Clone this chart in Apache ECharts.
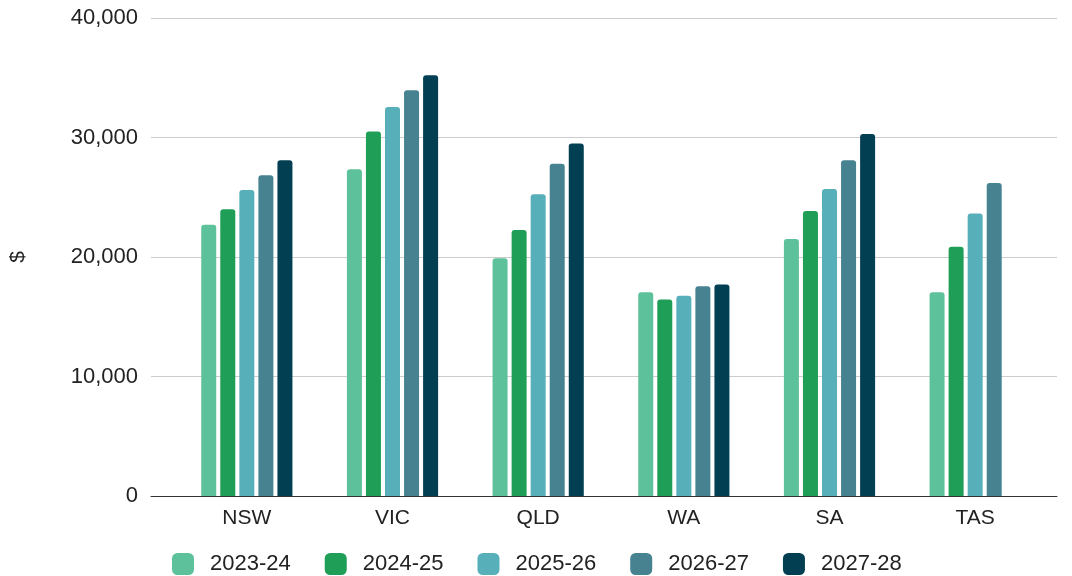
<!DOCTYPE html>
<html>
<head>
<meta charset="utf-8">
<script src="https://cdn.jsdelivr.net/npm/echarts@6/dist/echarts.min.js"></script>
<style>
  html, body { margin: 0; padding: 0; background: #fff; }
  #chart { width: 1072px; height: 576px; }
</style>
</head>
<body>
<div id="chart"></div>
<script>
const states = ['NSW', 'VIC', 'QLD', 'WA', 'SA', 'TAS']
const years = ['2023-24', '2024-25', '2025-26', '2026-27', '2027-28']
const v2023 = [22700, 27350, 19900, 17050, 21500, 17050]
const v2024 = [24000, 30500, 22250, 16450, 23850, 20850]
const v2025 = [25600, 32550, 25250, 16750, 25700, 23650]
const v2026 = [26850, 33950, 27800, 17550, 28100, 26200]
const v2027 = [28100, 35200, 29500, 17700, 30300, null]
const yTicks = [0, 10000, 20000, 30000, 40000]
const colors = ['#5dc19b', '#1f9e57', '#57afba', '#478290', '#033f53']

const chart = echarts.init(document.getElementById('chart'))
const font = 'Arial, "Liberation Sans", sans-serif'
const values = [v2023, v2024, v2025, v2026, v2027]

chart.setOption({
  backgroundColor: '#fff',
  animation: false,
  textStyle: { fontFamily: font },
  color: colors,
  legend: {
    top: 548,
    left: 167,
    itemWidth: 22,
    itemHeight: 22,
    itemGap: 34,
    icon: 'roundRect',
    textStyle: { fontSize: 22, color: '#222', fontFamily: font, padding: [0, 0, 0, 11] },
    data: years
  },
  grid: [
    // gridlines span the full width
    { left: 150, right: 15, top: 18, bottom: 80 },
    // bars sit a bit inside
    { left: 174, right: 24, top: 18, bottom: 80 }
  ],
  xAxis: [{
    gridIndex: 0,
    type: 'category',
    data: states,
    axisLine: { lineStyle: { color: '#333', width: 1 } },
    axisTick: { show: false },
    axisLabel: { show: false }
  }, {
    gridIndex: 1,
    type: 'category',
    data: states,
    axisLine: { show: false },
    axisTick: { show: false },
    axisLabel: { fontSize: 21, color: '#222', margin: 12 }
  }],
  yAxis: [{
    gridIndex: 0,
    type: 'value',
    min: yTicks[0],
    max: yTicks[yTicks.length - 1],
    interval: 10000,
    name: '$',
    nameLocation: 'middle',
    nameGap: 122,
    nameRotate: 90,
    nameTextStyle: { fontSize: 21, color: '#222' },
    axisLine: { show: false },
    axisTick: { show: false },
    axisLabel: {
      fontSize: 22,
      color: '#222',
      margin: 13,
      formatter: v => v.toLocaleString('en-US')
    },
    splitLine: { lineStyle: { color: '#cccccc', width: 1 } }
  }, {
    gridIndex: 1,
    type: 'value',
    min: yTicks[0],
    max: yTicks[yTicks.length - 1],
    show: false,
    splitLine: { show: false }
  }],
  series: values.map((data, i) => ({
    name: years[i],
    type: 'bar',
    xAxisIndex: 1,
    yAxisIndex: 1,
    data: data,
    barWidth: 15,
    barGap: '27%',
    itemStyle: { borderRadius: [3, 3, 0, 0] }
  }))
})
</script>
</body>
</html>
